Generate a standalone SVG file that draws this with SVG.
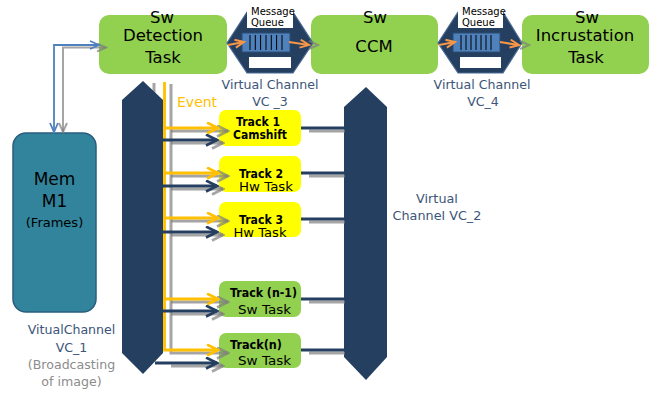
<svg xmlns="http://www.w3.org/2000/svg" width="658" height="395" viewBox="0 0 658 395">
<style>
text{font-family:"DejaVu Sans","Liberation Sans",sans-serif}
.box{fill:#92d050}
.ybox{fill:#ffff00}
.big{font-size:16.5px;fill:#000;text-anchor:middle}
.vc{font-size:12.6px;fill:#3c5578;text-anchor:middle}
.mq{font-size:10px;fill:#000}
.tb{font-size:12px;font-weight:bold;fill:#000;text-anchor:middle}
.tn{font-size:13px;fill:#000;text-anchor:middle}
.bus{fill:#243f60}
.hex{fill:#243f60;stroke:#4a6a94;stroke-width:1.2}
.q{fill:#4f81bd;stroke:#2c4d75;stroke-width:1}
.ql{stroke:#000;stroke-width:1}
.o{stroke:#ffc000;stroke-width:2.8;fill:none}
.n{stroke:#243f60;stroke-width:3;fill:none}
.g{stroke:#7f7f7f;stroke-opacity:0.7;stroke-width:3;fill:none}
.or{stroke:#f79646;stroke-width:2.2;fill:none}
</style>
<defs>
<marker id="mo" markerUnits="userSpaceOnUse" markerWidth="14" markerHeight="14" refX="12" refY="6.5" orient="auto"><path d="M1,1 L12,6.5 L1,12" fill="none" stroke="#ffc000" stroke-width="2.6"/></marker>
<marker id="mn" markerUnits="userSpaceOnUse" markerWidth="14" markerHeight="14" refX="12" refY="6.5" orient="auto"><path d="M1,1 L12,6.5 L1,12" fill="none" stroke="#243f60" stroke-width="2.6"/></marker>
<marker id="mg" markerUnits="userSpaceOnUse" markerWidth="14" markerHeight="14" refX="12" refY="6.5" orient="auto"><path d="M1,1 L12,6.5 L1,12" fill="none" stroke="#7f7f7f" stroke-opacity="0.7" stroke-width="2.6"/></marker>
<marker id="mb" markerUnits="userSpaceOnUse" markerWidth="12" markerHeight="12" refX="10" refY="5" orient="auto-start-reverse"><path d="M1,1 L10,5 L1,9" fill="none" stroke="#4f81bd" stroke-width="1.8"/></marker>
<marker id="mg2" markerUnits="userSpaceOnUse" markerWidth="12" markerHeight="12" refX="10" refY="5" orient="auto-start-reverse"><path d="M1,1 L10,5 L1,9" fill="none" stroke="#7f7f7f" stroke-opacity="0.7" stroke-width="2"/></marker>
<marker id="mor" markerUnits="userSpaceOnUse" markerWidth="12" markerHeight="12" refX="10" refY="5" orient="auto"><path d="M1,1 L10,5 L1,9" fill="none" stroke="#f79646" stroke-width="2"/></marker>
</defs>

<!-- Top task nodes -->
<g id="detection">
<rect class="box" x="99" y="15" width="128" height="59" rx="10"/>
<text class="big" x="162" y="23">Sw</text>
<text class="big" x="163" y="41">Detection</text>
<text class="big" x="163" y="63">Task</text>
</g>
<g id="ccm">
<rect class="box" x="311" y="15" width="127" height="59" rx="10"/>
<text class="big" x="375" y="23">Sw</text>
<text class="big" x="374" y="52">CCM</text>
</g>
<g id="incrustation">
<rect class="box" x="522" y="15" width="127" height="59" rx="10"/>
<text class="big" x="587" y="23">Sw</text>
<text class="big" x="585" y="41">Incrustation</text>
<text class="big" x="586" y="63">Task</text>
</g>

<!-- Message queues -->
<g id="vc3">
<polygon class="hex" points="227,43 247,12 293,12 313,43 293,73 247,73"/>
<rect x="247" y="4" width="46" height="24" fill="#fff"/>
<rect x="249" y="57" width="42" height="11" fill="#fff"/>
<text class="mq" x="251" y="15">Message</text>
<text class="mq" x="251" y="26">Queue</text>
<rect class="q" x="242" y="33" width="48" height="19"/>
<path class="ql" d="M250,35V50M255.3,35V50M260.6,35V50M266,35V50M271.3,35V50M276.6,35V50M282,35V50"/>
<text class="vc" x="270" y="89">Virtual Channel</text>
<text class="vc" x="270" y="106">VC _3</text>
</g>
<g id="vc4">
<polygon class="hex" points="438,43 458,12 503,12 522,43 503,73 458,73"/>
<rect x="458" y="4" width="45" height="24" fill="#fff"/>
<rect x="460" y="57" width="41" height="11" fill="#fff"/>
<text class="mq" x="462" y="15">Message</text>
<text class="mq" x="462" y="26">Queue</text>
<rect class="q" x="453" y="33" width="47" height="19"/>
<path class="ql" d="M461,35V50M466,35V50M471,35V50M476,35V50M481,35V50M486,35V50M491,35V50"/>
<text class="vc" x="482" y="89">Virtual Channel</text>
<text class="vc" x="483" y="106">VC_4</text>
</g>

<!-- Memory -->
<g id="mem">
<rect x="13" y="133" width="83" height="179" rx="13" fill="#31849b" stroke="#2b5d7e" stroke-width="1.5"/>
<text class="big" x="54.5" y="185" style="font-size:17px">Mem</text>
<text class="big" x="54.5" y="207" style="font-size:17px">M1</text>
<text x="54.5" y="227" font-size="13" text-anchor="middle">(Frames)</text>
</g>
<g id="vc1">
<text class="vc" x="71.5" y="334">VitualChannel</text>
<text class="vc" x="71.5" y="352">VC_1</text>
<text class="vc" x="71.5" y="369" style="fill:#8c8c8c">(Broadcasting</text>
<text class="vc" x="71.5" y="386" style="fill:#8c8c8c">of image)</text>
</g>

<!-- Buses -->
<g id="bus-left">
<line class="g" x1="154" y1="83" x2="154" y2="110"/>
<polygon class="bus" points="122,100 143,81 163,100 163,353 143,374 122,353"/>
<text x="177" y="107" font-size="14" fill="#ffc000">Event</text>
</g>
<g id="bus-right">
<polygon class="bus" points="344,107 366,87 387,107 387,357 366,380 344,357"/>
<text class="vc" x="437" y="203" style="font-size:12.8px">Virtual</text>
<text class="vc" x="437" y="220" style="font-size:12.8px">Channel VC_2</text>
</g>

<!-- Track nodes -->
<g id="track1">
<rect class="ybox" x="219" y="110" width="82" height="36" rx="7"/>
<text class="tb" x="258" y="126" textLength="44" lengthAdjust="spacingAndGlyphs">Track 1</text>
<text class="tb" x="260" y="139" textLength="54" lengthAdjust="spacingAndGlyphs">Camshift</text>
</g>
<g id="track2">
<rect class="ybox" x="219" y="156" width="82" height="36" rx="7"/>
<text class="tb" x="261" y="177.5" textLength="44" lengthAdjust="spacingAndGlyphs">Track 2</text>
<text class="tn" x="266" y="191" textLength="54" lengthAdjust="spacingAndGlyphs">Hw Task</text>
</g>
<g id="track3">
<rect class="ybox" x="219" y="202" width="82" height="35" rx="7"/>
<text class="tb" x="261" y="223.5" textLength="44" lengthAdjust="spacingAndGlyphs">Track 3</text>
<text class="tn" x="260" y="237" textLength="53" lengthAdjust="spacingAndGlyphs">Hw Task</text>
</g>
<g id="track-n-1">
<rect class="box" x="219" y="281" width="82" height="36" rx="7"/>
<text class="tb" x="263.5" y="297" textLength="67" lengthAdjust="spacingAndGlyphs">Track (n-1)</text>
<text class="tn" x="264.5" y="314" textLength="53" lengthAdjust="spacingAndGlyphs">Sw Task</text>
</g>
<g id="track-n">
<rect class="box" x="219" y="333" width="82" height="35" rx="7"/>
<text class="tb" x="256" y="349" textLength="52" lengthAdjust="spacingAndGlyphs">Track(n)</text>
<text class="tn" x="264.5" y="365" textLength="53" lengthAdjust="spacingAndGlyphs">Sw Task</text>
</g>

<!-- Connectors -->
<g id="connectors">
<path d="M63,132 V47.5 H106" fill="none" stroke="#7f7f7f" stroke-opacity="0.7" stroke-width="2" marker-start="url(#mg2)" marker-end="url(#mg2)"/>
<path d="M54,132 V45 H99" fill="none" stroke="#4f81bd" stroke-width="1.8" marker-start="url(#mb)" marker-end="url(#mb)"/>
<line class="or" x1="228" y1="45" x2="244" y2="42" marker-end="url(#mor)"/>
<line class="or" x1="289" y1="42" x2="309" y2="45" marker-end="url(#mor)"/>
<line x1="310" y1="45" x2="318" y2="45" stroke="none" marker-end="url(#mg2)"/>
<line class="or" x1="439" y1="45" x2="455" y2="42" marker-end="url(#mor)"/>
<line class="or" x1="500" y1="42" x2="519" y2="45" marker-end="url(#mor)"/>
<line x1="521" y1="45" x2="529" y2="45" stroke="none" marker-end="url(#mg2)"/>
<path class="g" d="M171,84 V353 H228" marker-end="url(#mg)"/>
<line class="g" x1="171" y1="131" x2="228" y2="131" marker-end="url(#mg)"/>
<line class="g" x1="171" y1="143" x2="223" y2="143" marker-end="url(#mg)"/>
<line class="g" x1="171" y1="176" x2="228" y2="176" marker-end="url(#mg)"/>
<line class="g" x1="171" y1="189" x2="223" y2="189" marker-end="url(#mg)"/>
<line class="g" x1="171" y1="221" x2="228" y2="221" marker-end="url(#mg)"/>
<line class="g" x1="171" y1="235" x2="223" y2="235" marker-end="url(#mg)"/>
<line class="g" x1="171" y1="302" x2="228" y2="302" marker-end="url(#mg)"/>
<line class="g" x1="171" y1="314" x2="223" y2="314" marker-end="url(#mg)"/>
<line class="g" x1="171" y1="366" x2="223" y2="366" marker-end="url(#mg)"/>
<path class="o" d="M164.5,82 V350 H218" marker-end="url(#mo)"/>
<line class="o" x1="164" y1="128" x2="218" y2="128" marker-end="url(#mo)"/>
<line class="o" x1="164" y1="173" x2="218" y2="173" marker-end="url(#mo)"/>
<line class="o" x1="164" y1="218" x2="218" y2="218" marker-end="url(#mo)"/>
<line class="o" x1="164" y1="299" x2="218" y2="299" marker-end="url(#mo)"/>
<line class="n" x1="163" y1="140" x2="217" y2="140" marker-end="url(#mn)"/>
<line class="n" x1="163" y1="186" x2="217" y2="186" marker-end="url(#mn)"/>
<line class="n" x1="163" y1="232" x2="217" y2="232" marker-end="url(#mn)"/>
<line class="n" x1="163" y1="311" x2="217" y2="311" marker-end="url(#mn)"/>
<line class="n" x1="155" y1="363" x2="217" y2="363" marker-end="url(#mn)"/>
<line class="g" x1="309" y1="131" x2="345" y2="131"/>
<line class="g" x1="309" y1="176" x2="345" y2="176"/>
<line class="g" x1="309" y1="222" x2="345" y2="222"/>
<line class="g" x1="309" y1="302" x2="345" y2="302"/>
<line class="g" x1="309" y1="353" x2="345" y2="353"/>
<line class="n" x1="301" y1="128" x2="346" y2="128"/>
<line class="n" x1="301" y1="173" x2="346" y2="173"/>
<line class="n" x1="301" y1="219" x2="346" y2="219"/>
<line class="n" x1="301" y1="299" x2="346" y2="299"/>
<line class="n" x1="301" y1="350" x2="346" y2="350"/>
</g>
</svg>
